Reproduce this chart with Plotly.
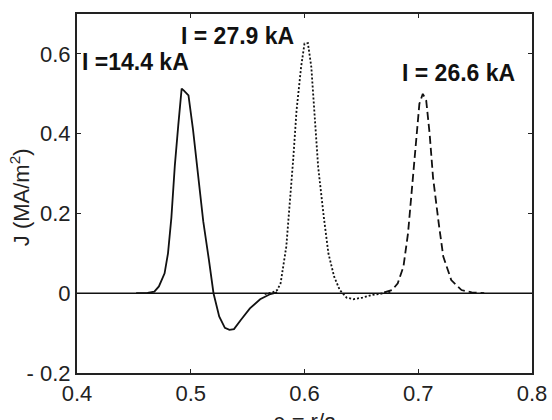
import plotly.graph_objects as go

# Solid curve, I = 14.4 kA
rho_a = [0.452, 0.462, 0.468, 0.472, 0.477, 0.480, 0.483, 0.486, 0.489, 0.492, 0.494, 0.498,
         0.502, 0.507, 0.511, 0.516, 0.520, 0.525, 0.530, 0.534, 0.538, 0.544, 0.552, 0.561,
         0.570, 0.576]
j_a = [0.0, 0.001, 0.004, 0.017, 0.05, 0.10, 0.19, 0.32, 0.42, 0.513, 0.508, 0.496,
       0.41, 0.29, 0.18, 0.083, 0.0, -0.058, -0.087, -0.092, -0.090, -0.067, -0.038, -0.015,
       -0.002, 0.002]

# Dotted curve, I = 27.9 kA
rho_b = [0.565, 0.572, 0.576, 0.579, 0.584, 0.587, 0.590, 0.593, 0.597, 0.600, 0.603, 0.606,
         0.609, 0.612, 0.617, 0.621, 0.626, 0.631, 0.637, 0.643, 0.651, 0.660, 0.670, 0.676]
j_b = [-0.002, 0.002, 0.008, 0.025, 0.117, 0.217, 0.333, 0.458, 0.567, 0.626, 0.627, 0.567,
       0.44, 0.317, 0.19, 0.10, 0.042, 0.008, -0.011, -0.015, -0.011, -0.004, 0.0, 0.004]

# Dashed curve, I = 26.6 kA
rho_c = [0.670, 0.677, 0.682, 0.687, 0.691, 0.694, 0.698, 0.701, 0.704, 0.707, 0.710, 0.713,
         0.718, 0.722, 0.729, 0.738, 0.747, 0.758]
j_c = [0.002, 0.008, 0.025, 0.067, 0.15, 0.25, 0.375, 0.475, 0.50, 0.483, 0.40, 0.29,
       0.175, 0.092, 0.033, 0.008, 0.002, 0.0]

labels = ["I =14.4 kA", "I = 27.9 kA", "I = 26.6 kA"]
label_x = [0.403, 0.490, 0.684]
label_y = [0.579, 0.645, 0.552]

x_ticks = [0.4, 0.5, 0.6, 0.7, 0.8]
x_ticktext = ["0.4", "0.5", "0.6", "0.7", "0.8"]
y_ticks = [-0.2, 0, 0.2, 0.4, 0.6]
y_ticktext = ["- 0.2", "0", "0.2", "0.4", "0.6"]

FONT = "Liberation Sans, Arial, Helvetica, sans-serif"
LINE = "#111111"

fig = go.Figure()
fig.add_trace(go.Scatter(x=rho_a, y=j_a, mode="lines", line=dict(color=LINE, width=1.8, dash="solid"),
                         showlegend=False))
fig.add_trace(go.Scatter(x=rho_b, y=j_b, mode="lines", line=dict(color=LINE, width=1.8, dash="2px,2px"),
                         showlegend=False))
fig.add_trace(go.Scatter(x=rho_c, y=j_c, mode="lines", line=dict(color=LINE, width=1.8, dash="8px,4px"),
                         showlegend=False))

# zero line
fig.add_shape(type="line", xref="paper", x0=0, x1=1, yref="y", y0=0, y1=0,
              line=dict(color=LINE, width=1.6))

for t, x, y in zip(labels, label_x, label_y):
    fig.add_annotation(x=x, y=y, xref="x", yref="y", text="<b>" + t + "</b>", showarrow=False,
                       xanchor="left", yanchor="middle",
                       font=dict(family=FONT, size=23, color="#111111"))

# axis titles
fig.add_annotation(x=0.5, y=-0.095, xref="paper", yref="paper", text="ρ = r/a", showarrow=False,
                   xanchor="center", yanchor="top", font=dict(family=FONT, size=22, color="#222222"))
fig.add_annotation(x=-0.125, y=0.49, xref="paper", yref="paper", text="J (MA/m<sup>2</sup>)",
                   showarrow=False, textangle=-90, xanchor="center", yanchor="middle",
                   font=dict(family=FONT, size=22, color="#222222"))

axis_common = dict(showline=True, linecolor="#222222", linewidth=2, mirror="ticks",
                   ticks="inside", ticklen=4, tickwidth=1.2, tickcolor="#222222",
                   showgrid=False, zeroline=False,
                   tickfont=dict(family=FONT, size=22, color="#222222"))

fig.update_xaxes(range=[0.4, 0.8], tickvals=x_ticks, ticktext=x_ticktext, **axis_common)
fig.update_yaxes(range=[-0.2, 0.7], tickvals=y_ticks, ticktext=y_ticktext, **axis_common)

fig.update_layout(width=552, height=420, margin=dict(l=77, r=20, t=14, b=47, autoexpand=False),
                  plot_bgcolor="white", paper_bgcolor="white",
                  font=dict(family=FONT))

fig.write_html("out.html")
